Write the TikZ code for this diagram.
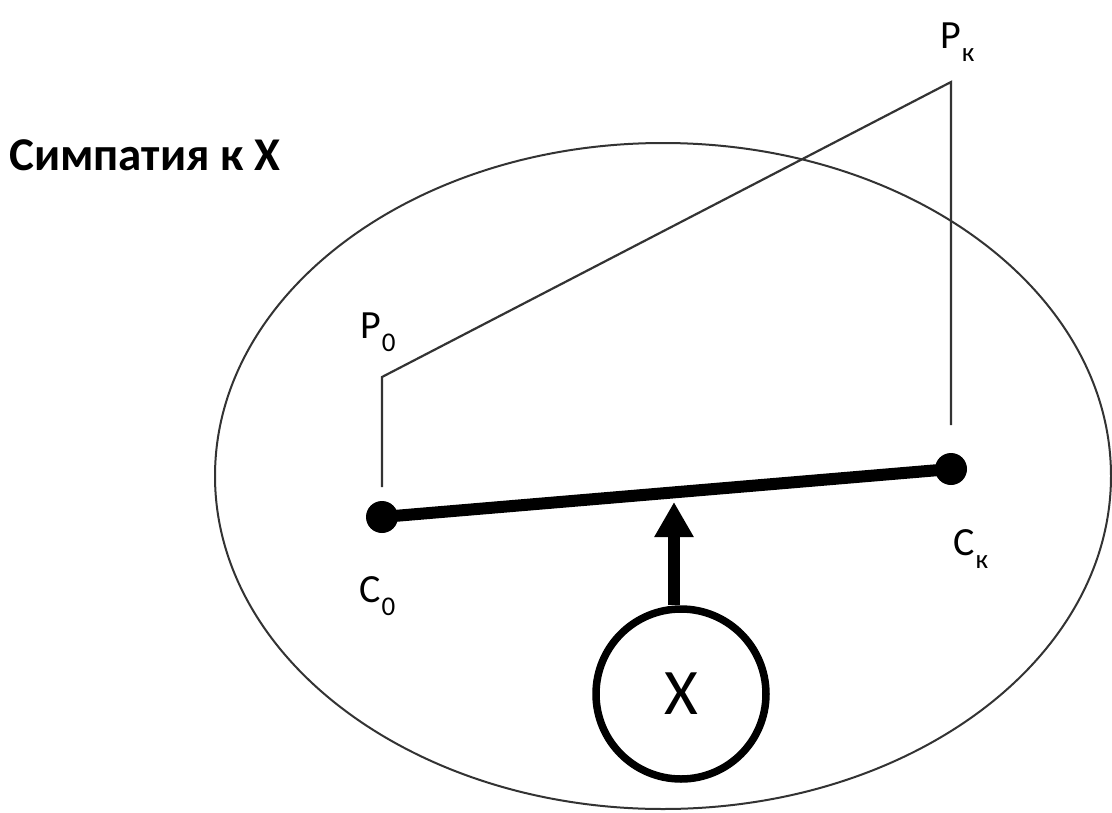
\documentclass[tikz,border=0pt]{standalone}
\usepackage{fontspec}
\setmainfont{Carlito}
\usetikzlibrary{arrows.meta,shapes.geometric}
\tikzset{
  thinline/.style={line width=2.2pt, draw=black!80},
  dot/.style={circle, fill=black, inner sep=0pt, minimum size=32pt},
  lbl/.style={anchor=base west, inner sep=0pt, font=\fontsize{40}{44}\selectfont},
  bar/.style={line width=12pt, draw=black},
  push/.style={line width=12pt, -{Triangle[width=37pt,length=35pt]}},
}
\newcommand{\mysub}[1]{\kern1pt\raisebox{-13pt}{\fontsize{27}{30}\selectfont #1}}
\begin{document}
\begin{tikzpicture}[x=1pt,y=-1pt]
\useasboundingbox (0,0) rectangle (1112,812);
% ellipse
\node[draw=black!80, line width=2pt, ellipse, inner sep=0pt, minimum width=896pt, minimum height=666pt] (field) at (663,476) {};
% title
\node[anchor=base west, inner sep=0pt, font=\bfseries\fontsize{47}{50}\selectfont] (title) at (9,170) {Симпатия к X};
% points
\node[dot] (c0) at (382,517) {};
\node[dot] (ck) at (951,469) {};
\coordinate (c0top) at (382,487);
\coordinate (p0) at (382,377);
\coordinate (pk) at (951,82);
\coordinate (cktop) at (951,425);
\draw[thinline] (c0top) -- (p0) -- (pk) -- (cktop);
% bar
\draw[bar] (c0.center) -- (ck.center);
% labels
\node[lbl] (lp0) at (360,338) {P\mysub{0}};
\node[lbl] (lpk) at (940,48) {P\mysub{к}};
\node[lbl] (lc0) at (359,602) {C\mysub{0}};
\node[lbl] (lck) at (953,555) {C\mysub{к}};
% X circle
\node[circle, draw=black, line width=7.5pt, minimum size=170pt, inner sep=0pt, font=\fontsize{65}{68}\selectfont] (x) at (681,694) {X};
\coordinate (tip) at (674,502);
\draw[push] (x.north -| tip) -- (tip);
\end{tikzpicture}
\end{document}
